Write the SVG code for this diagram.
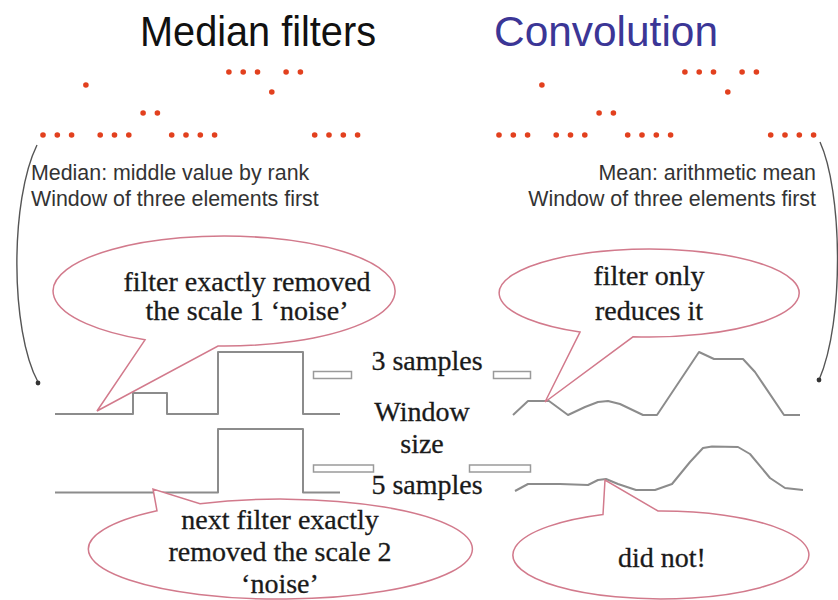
<svg xmlns="http://www.w3.org/2000/svg" width="838" height="600" viewBox="0 0 838 600">
<defs>
<style>
.title{font-family:"Liberation Sans",Arial,sans-serif;font-size:42px}
.note{font-family:"Liberation Sans",Arial,sans-serif;font-size:21.4px;fill:#333}
.serif{font-family:"Liberation Serif","Times New Roman",serif;font-size:28px;fill:#1a1a1a;text-anchor:middle;stroke:#1a1a1a;stroke-width:0.3}
.dot{fill:#e2401e}
.sig{fill:none;stroke:#8c8c8c;stroke-width:2;stroke-linejoin:round}
.win{fill:#fff;stroke:#9a9a9a;stroke-width:1.5}
.callout{fill:#fff;stroke:#d27a8c;stroke-width:1.5}
.arc{fill:none;stroke:#555;stroke-width:1.4}
</style>
<g id="samples">
<circle class="dot" cx="43" cy="135" r="2.8"/><circle class="dot" cx="57.3" cy="135" r="2.8"/><circle class="dot" cx="71.6" cy="135" r="2.8"/>
<circle class="dot" cx="85.9" cy="85" r="2.8"/>
<circle class="dot" cx="100.2" cy="135" r="2.8"/><circle class="dot" cx="114.5" cy="135" r="2.8"/><circle class="dot" cx="128.8" cy="135" r="2.8"/>
<circle class="dot" cx="143.1" cy="113" r="2.8"/><circle class="dot" cx="157.4" cy="113" r="2.8"/>
<circle class="dot" cx="171.7" cy="135" r="2.8"/><circle class="dot" cx="186" cy="135" r="2.8"/><circle class="dot" cx="200.3" cy="135" r="2.8"/><circle class="dot" cx="214.6" cy="135" r="2.8"/>
<circle class="dot" cx="228.9" cy="72" r="2.8"/><circle class="dot" cx="243.2" cy="72" r="2.8"/><circle class="dot" cx="257.5" cy="72" r="2.8"/>
<circle class="dot" cx="271.8" cy="92" r="2.8"/>
<circle class="dot" cx="286.1" cy="72" r="2.8"/><circle class="dot" cx="300.4" cy="72" r="2.8"/>
<circle class="dot" cx="314.7" cy="135" r="2.8"/><circle class="dot" cx="329" cy="135" r="2.8"/><circle class="dot" cx="343.3" cy="135" r="2.8"/><circle class="dot" cx="357.6" cy="135" r="2.8"/>
</g>
</defs>

<g id="title-median"><text class="title" x="140" y="46" textLength="236" lengthAdjust="spacingAndGlyphs" fill="#111">Median filters</text></g>
<g id="title-convolution"><text class="title" x="494" y="46" textLength="224" lengthAdjust="spacingAndGlyphs" fill="#3b3696">Convolution</text></g>

<g id="dots-left"><use href="#samples"/></g>
<g id="dots-right"><use href="#samples" transform="translate(456,0)"/></g>

<g id="note-left">
<text class="note" x="31" y="180">Median: middle value by rank</text>
<text class="note" x="31" y="206">Window of three elements first</text>
</g>
<g id="note-right">
<text class="note" x="816" y="180" text-anchor="end">Mean: arithmetic mean</text>
<text class="note" x="816" y="206" text-anchor="end">Window of three elements first</text>
</g>

<g id="connectors">
<path class="arc" d="M37,145 C10,200 10,330 38,382"/>
<circle cx="38" cy="383" r="2.4" fill="#333"/>
<path class="arc" d="M820,142 C842,190 845,320 819,380"/>
<circle cx="819" cy="380" r="2.4" fill="#333"/>
</g>

<g id="median-3">
<polyline class="sig" points="55,414 133,414 133,393 167,393 167,414 218,414 218,352 303,352 303,414 340,414"/>
</g>
<g id="median-5">
<polyline class="sig" points="55,492.5 218,492.5 218,429 303,429 303,492.5 340,492.5"/>
</g>
<g id="mean-3">
<polyline class="sig" points="513,415 528,401 549,401 568,415 585,407 598,402 608,401 620,404 643,415 657,415 699,352 714,359 743,359 755,372 784,415 800,415"/>
</g>
<g id="mean-5">
<polyline class="sig" points="515,491 528,484 560,484 588,485 598,480 606,479 618,484 636,490 655,490 672,484 690,462 703,448 712,446.5 738,447 750,454 770,478 785,488 803,490"/>
</g>

<g id="window-3">
<rect class="win" x="313.5" y="371.5" width="38" height="7"/>
<rect class="win" x="493.5" y="371.5" width="37" height="7"/>
</g>
<g id="window-5">
<rect class="win" x="313.5" y="465" width="60" height="7"/>
<rect class="win" x="469.5" y="465" width="61" height="7"/>
</g>

<g id="window-labels">
<text class="serif" x="427" y="370">3 samples</text>
<text class="serif" x="422" y="421">Window</text>
<text class="serif" x="422" y="453">size</text>
<text class="serif" x="427" y="494">5 samples</text>
</g>

<g id="callout-1">
<path class="callout" d="M145,339.8 L97,411 L218,346 A171,55 0 1 0 145,339.8 Z"/>
<text class="serif" x="247" y="291">filter exactly removed</text>
<text class="serif" x="247" y="320">the scale 1 ‘noise’</text>
</g>
<g id="callout-2">
<path class="callout" d="M580,332.1 L545,402 L633,336.8 A150,44 0 1 0 580,332.1 Z"/>
<text class="serif" x="649" y="285">filter only</text>
<text class="serif" x="649" y="320">reduces it</text>
</g>
<g id="callout-3">
<path class="callout" d="M157,510.8 L153,489 L200,503.7 A192,50 0 1 1 157,510.8 Z"/>
<text class="serif" x="280" y="529">next filter exactly</text>
<text class="serif" x="280" y="561">removed the scale 2</text>
<text class="serif" x="280" y="593">‘noise’</text>
</g>
<g id="callout-4">
<path class="callout" d="M603,514.5 L605,480 L658,511 A148,44 0 1 1 603,514.5 Z"/>
<text class="serif" x="662" y="567">did not!</text>
</g>
</svg>
